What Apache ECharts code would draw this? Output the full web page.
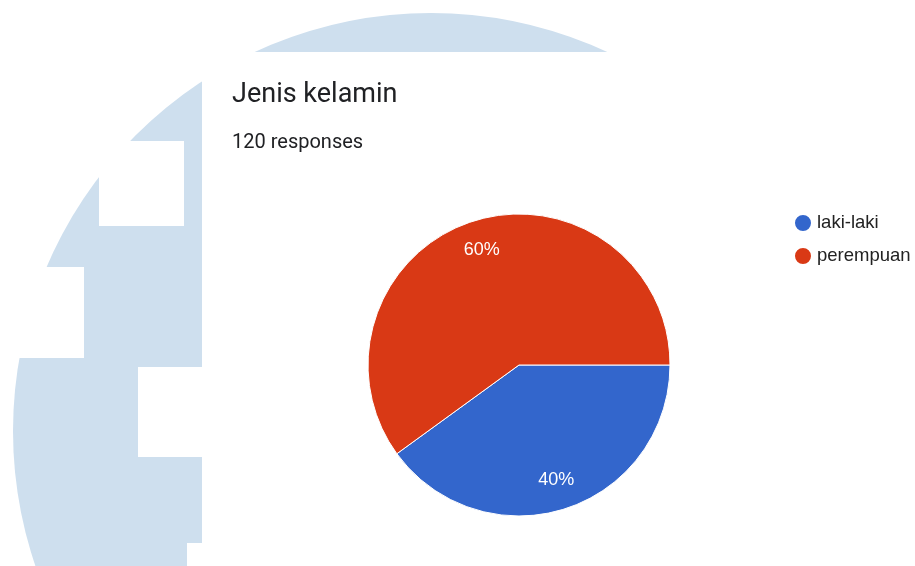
<!DOCTYPE html>
<html>
<head>
<meta charset="utf-8">
<title>Jenis kelamin</title>
<script src="https://cdn.jsdelivr.net/npm/echarts@6/dist/echarts.min.js"></script>
<style>
  html, body { margin: 0; padding: 0; background: #ffffff; }
  #chart { width: 915px; height: 566px; }
</style>
</head>
<body>
<div id="chart"></div>
<script>
// Survey question and answer counts
const questionTitle = 'Jenis kelamin';
const responseCount = 120;
const categories = ['laki-laki', 'perempuan'];
const counts = [48, 72];
const sliceColors = ['#3366cc', '#d93915'];

const pieData = categories.map((name, i) => ({
  name: name,
  value: counts[i],
  itemStyle: { color: sliceColors[i] }
}));

// Decorative backdrop: pale emblem disc with white cut-outs and the card
const paleBlue = '#cedfee';
const backdrop = [
  { type: 'circle', shape: { cx: 431, cy: 431, r: 418 }, style: { fill: paleBlue } },
  { type: 'rect', shape: { x: 99, y: 141, width: 85, height: 85 }, style: { fill: '#fff' } },
  { type: 'rect', shape: { x: 0, y: 267, width: 84, height: 91 }, style: { fill: '#fff' } },
  { type: 'rect', shape: { x: 138, y: 367, width: 70, height: 90 }, style: { fill: '#fff' } },
  { type: 'rect', shape: { x: 187, y: 543, width: 20, height: 30 }, style: { fill: '#fff' } },
  { type: 'rect', shape: { x: 202, y: 52, width: 713, height: 514 }, style: { fill: '#fff' } }
];

const chart = echarts.init(document.getElementById('chart'), null, { renderer: 'canvas' });

chart.setOption({
  animation: false,
  graphic: { elements: backdrop },
  title: [
    {
      text: questionTitle,
      left: 232,
      top: 82,
      padding: 0,
      textStyle: { fontFamily: 'Roboto', fontSize: 27, fontWeight: 'normal', color: '#202124' }
    },
    {
      text: responseCount + ' responses',
      left: 232,
      top: 133,
      padding: 0,
      textStyle: { fontFamily: 'Roboto', fontSize: 20, fontWeight: 'normal', color: '#202124' }
    }
  ],
  legend: {
    orient: 'vertical',
    left: 793,
    top: 213,
    padding: 0,
    icon: 'circle',
    itemWidth: 18,
    itemHeight: 18,
    itemGap: 13,
    data: categories,
    textStyle: { fontFamily: 'Liberation Sans', fontSize: 18.5, color: '#222222' }
  },
  series: [
    {
      type: 'pie',
      center: [519, 365],
      radius: [0, 151],
      startAngle: 0,
      clockwise: true,
      percentPrecision: 0,
      label: { show: false },
      labelLine: { show: false },
      emphasis: { disabled: true },
      itemStyle: { borderColor: '#ffffff', borderWidth: 1 },
      data: pieData
    },
    {
      // transparent ring used only to place the percentage labels
      type: 'pie',
      center: [519, 365],
      radius: [84, 151],
      startAngle: 0,
      clockwise: true,
      percentPrecision: 0,
      silent: true,
      legendHoverLink: false,
      emphasis: { disabled: true },
      itemStyle: { color: 'rgba(0,0,0,0)', borderWidth: 0 },
      labelLine: { show: false },
      label: {
        show: true,
        position: 'inside',
        formatter: '{d}%',
        fontFamily: 'Liberation Sans',
        fontSize: 18,
        color: '#ffffff'
      },
      data: categories.map((name, i) => ({ name: name, value: counts[i] }))
    }
  ]
});
</script>
</body>
</html>
